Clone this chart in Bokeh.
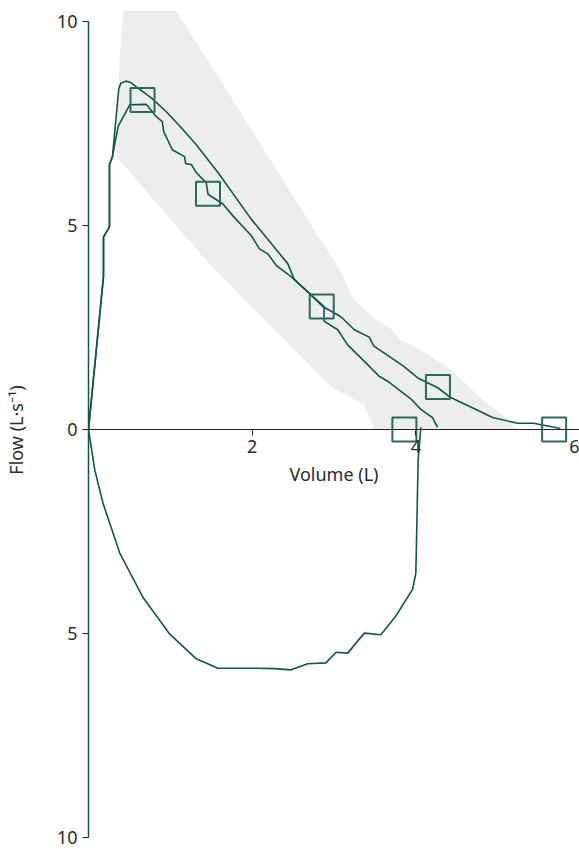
from bokeh.plotting import figure
from bokeh.models import Range1d, FixedTicker
from bokeh.embed import file_html
from bokeh.resources import INLINE

# Expiratory trial 1 (highest peak)
vol_a = [0, 0.183, 0.183, 0.256, 0.256, 0.293, 0.370, 0.396, 0.457, 0.524, 0.585, 0.768,
         0.951, 1.134, 1.317, 1.582, 1.988, 2.435, 2.516, 2.679, 2.878, 2.878, 3.045,
         3.167, 3.390, 3.552, 3.655, 3.939, 4.061, 4.204, 4.265]
flow_a = [0, 3.74, 4.71, 4.96, 6.49, 6.68, 8.35, 8.48, 8.53, 8.49, 8.39, 8.12,
          7.78, 7.39, 6.97, 6.29, 5.15, 4.06, 3.67, 3.37, 3.01, 2.65, 2.44,
          2.07, 1.63, 1.30, 1.18, 0.75, 0.49, 0.29, 0.05]

# Expiratory trial 2 (largest volume)
vol_b = [0, 0.183, 0.183, 0.256, 0.256, 0.293, 0.362, 0.504, 0.707, 0.829, 0.902, 0.918,
         1.024, 1.174, 1.187, 1.256, 1.317, 1.439, 1.460, 1.582, 1.643, 1.765, 1.988,
         2.089, 2.191, 2.293, 2.476, 2.699, 2.862, 3.085, 3.248, 3.430, 3.488, 3.841,
         4.024, 4.268, 4.427, 4.939, 5.244, 5.439, 5.768]
flow_b = [0, 3.74, 4.71, 4.96, 6.49, 6.68, 7.42, 7.95, 7.96, 7.66, 7.54, 7.30,
          6.85, 6.68, 6.51, 6.49, 6.29, 6.04, 5.76, 5.60, 5.52, 5.23, 4.75,
          4.42, 4.30, 4.02, 3.74, 3.33, 3.01, 2.76, 2.44, 2.26, 2.04, 1.56,
          1.26, 1.02, 0.78, 0.29, 0.15, 0.15, 0.02]

# Inspiratory limb
vol_i = [0, 0.077, 0.179, 0.382, 0.667, 0.991, 1.317, 1.582, 2.070, 2.272, 2.476, 2.679,
         2.902, 3.024, 3.167, 3.370, 3.573, 3.756, 3.960, 4.000, 4.012, 4.028, 4.061]
flow_i = [0, -1.00, -1.82, -3.03, -4.12, -5.01, -5.62, -5.85, -5.85, -5.86, -5.89, -5.74,
          -5.72, -5.46, -5.48, -4.99, -5.03, -4.57, -3.92, -3.52, -2.38, -0.76, 0.05]

# Predicted points
pred_vol = [0.66, 1.46, 2.85, 4.27, 3.86, 5.69]
pred_flow = [8.07, 5.77, 3.01, 1.04, 0.0, 0.0]

# Normal range band
band_upper_vol = [1.073, 2.756, 3.061, 3.244, 3.488, 3.659, 3.817, 3.976, 4.183, 4.427,
                  4.829, 5.037, 5.256]
band_upper_flow = [10.26, 4.91, 3.94, 3.18, 2.72, 2.53, 2.19, 2.04, 1.80, 1.46,
                   0.70, 0.39, 0.0]
band_lower_vol = [3.488, 3.366, 2.963, 2.134, 1.988, 1.439, 1.134, 0.341, 0.378, 0.427]
band_lower_flow = [0.0, 0.61, 1.04, 2.72, 3.01, 4.13, 4.84, 6.68, 9.04, 10.26]

y_ticks = [-10, -5, 0, 5, 10]
y_labels = ["10", "5", "0", "5", "10"]
x_ticks = [2, 4, 6]

GREEN = "#12564a"
TEXT = "#2b2b2b"
FONT = "Noto Sans"

p = figure(width=579, height=849, x_range=Range1d(0, 6), y_range=Range1d(-10.29, 10.26),
           output_backend="svg", toolbar_location=None,
           min_border_left=87, min_border_right=0, min_border_top=10, min_border_bottom=0)
p.outline_line_color = None
p.grid.visible = False
p.background_fill_color = "white"
p.border_fill_color = "white"

p.patch(band_upper_vol + band_lower_vol, band_upper_flow + band_lower_flow,
        fill_color="#eceeed", line_color=None)

p.line(vol_i, flow_i, line_color=GREEN, line_width=1.6)
p.line(vol_b, flow_b, line_color=GREEN, line_width=1.6)
p.line(vol_a, flow_a, line_color=GREEN, line_width=1.6)

p.scatter(pred_vol, pred_flow, marker="square", size=24, fill_color=None,
          line_color="#2a6a5c", line_width=2)

xa = p.xaxis[0]
xa.fixed_location = 0
xa.ticker = FixedTicker(ticks=x_ticks)
xa.axis_label = "Volume (L)"
xa.axis_line_color = "#222222"
xa.major_tick_line_color = "#222222"
xa.major_tick_in = 0
xa.major_tick_out = 6
xa.minor_tick_line_color = None
xa.major_label_text_font = FONT
xa.major_label_text_font_size = "18px"
xa.major_label_text_color = TEXT
xa.axis_label_text_font = FONT
xa.axis_label_text_font_size = "18px"
xa.axis_label_text_font_style = "normal"
xa.axis_label_text_color = TEXT

ya = p.yaxis[0]
ya.ticker = FixedTicker(ticks=y_ticks)
ya.major_label_overrides = {t: l for t, l in zip(y_ticks, y_labels)}
ya.bounds = (-10, 10)
ya.axis_label = "Flow (L·s⁻¹)"
ya.axis_line_color = GREEN
ya.axis_line_width = 1.5
ya.major_tick_line_color = "#222222"
ya.major_tick_in = 0
ya.major_tick_out = 6
ya.minor_tick_line_color = None
ya.major_label_text_font = FONT
ya.major_label_text_font_size = "18px"
ya.major_label_text_color = TEXT
ya.axis_label_text_font = FONT
ya.axis_label_text_font_size = "18px"
ya.axis_label_text_font_style = "normal"
ya.axis_label_text_color = TEXT
ya.axis_label_standoff = 26

open("out.html", "w").write(file_html(p, INLINE))
